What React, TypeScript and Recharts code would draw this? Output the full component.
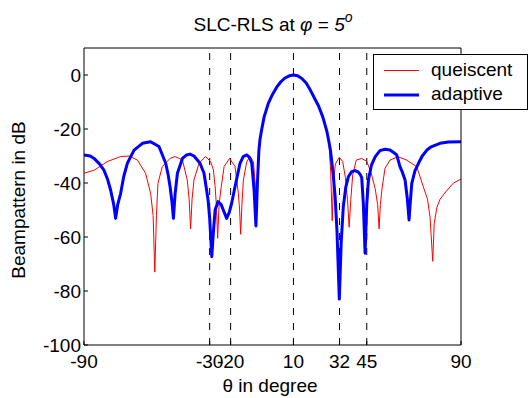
import React from 'react';
import { LineChart, Line, XAxis, YAxis, ReferenceLine, Legend } from 'recharts';

// quiescent (red) pattern
const quiescentAngles = [
  -90, -85, -79, -72.5, -68.5, -64.5, -60.6, -58.2, -57, -56.2, -55.4, -54.7, -52.6, -48.9, -46.5, -43,
  -40.7, -39.8, -39.1, -38.4, -37.5, -35.1, -32, -29.5, -28.2, -27.4, -26.8, -26.2, -25.5, -24.7, -23.1,
  -20.5, -17.9, -16.3, -15.7, -15.2, -14.6, -13.9, -12.3, -10.7, -9.1, -8.3, -7.6, -7, -6.3, -5, -4, -2,
  0, 2, 4, 6, 8, 10, 12, 14, 16, 18, 20, 22, 24, 26, 27, 27.8, 28.5, 29.1, 30, 31.9, 33.5, 34.8, 35.8,
  36.6, 37.4, 38.3, 40, 42.6, 45, 47, 49, 50.2, 50.9, 51.5, 52.2, 53.7, 56.1, 60, 64, 68.9, 72, 74, 75.2,
  76.5, 77.2, 78.5, 80, 83, 86.3, 90,
];
const quiescentDb = [
  -36.4, -35.2, -32.1, -30.2, -30, -31.5, -36.4, -43.8, -52, -73, -52, -40.1, -33.9, -30.9, -30.2, -31.5,
  -38.9, -46, -57, -46, -38.9, -32.7, -30.2, -32.1, -35.2, -41.4, -48, -60.5, -48, -42.6, -33.9,
  -30.9, -33.9, -43.8, -50, -59, -48, -38.9, -32.1, -30.2, -32.1, -40, -52, -38, -27, -19.5, -15.5, -10.5,
  -7.2, -4.5, -2.5, -1.1, -0.3, 0, -0.3, -1.3, -2.9, -5.5, -8.5, -11.5, -15.5, -21, -26, -36, -54, -40, -33, -30.5, -32, -38, -46,
  -56.4, -46, -37, -31.5, -30.9, -32, -36, -42, -48, -57, -48, -42.6, -34.6, -31.5, -30.3, -31.5, -34, -41.4, -46, -52.5,
  -69, -55, -49, -46, -43, -40.1, -38.5,
];

// adaptive (blue) pattern
const adaptiveAngles = [
  -90, -87, -85.2, -82.5, -80.5, -78.8, -77.3, -75.8, -74.9, -73.9, -72.5, -71, -69.3, -66.1, -62.1, -58.2,
  -54.2, -51, -49.8, -48.9, -48, -47.3, -46.5, -45.4, -43, -41, -39.4, -37.5, -35.9, -34.6, -32.7, -32.2,
  -30.8, -30, -29, -28.2, -27.4, -26, -24.5, -23.5, -21.9, -20.7, -19.5, -17.9, -15.5, -14, -12.3, -11,
  -9.9, -8.8, -7.9, -7.2, -6.5, -6, -5.2, -4, -2, 0, 2, 4, 6, 8, 10, 12, 14, 16, 18, 20, 22, 24, 26, 27,
  27.7, 29, 29.9, 30.8, 31.9, 32.8, 33.8, 35, 36.2, 37.8, 39.4, 41, 42, 42.6, 43.4, 44.2, 45, 45.8, 47.2,
  49, 51.3, 53.7, 56.1, 58, 59.3, 60.9, 62, 63.3, 64.4, 65.2, 65.9, 66.5, 68, 69.7, 71.5, 73.7, 76, 80, 84, 90,
];
const adaptiveDb = [
  -29.6, -30, -30.9, -33, -35.2, -38.5, -42.6, -48, -53.1, -48, -43.8, -37.5, -32.7, -27.8, -25.3, -24.7,
  -26.5, -32.7, -37, -41.4, -47, -53.1, -44, -36.4, -30.9, -29.6, -29.3, -30, -31.5, -32.7, -36.4, -38.9,
  -46, -53, -67.3, -58, -50, -46.9, -48, -50, -53.1, -51, -47.5, -41.4, -32.7, -30.2, -29.6, -30.5,
  -32.7, -42.6, -55.9, -40, -28, -24, -20.4, -15.5, -10.5, -7.2, -4.5, -2.5, -1.1, -0.3, 0, -0.3, -1.3, -2.9, -5.5, -8.5, -11.5, -15.5, -21, -25,
  -28, -37, -45, -58, -83, -62, -48.8, -41.5, -37.7, -35.8, -35.4, -36, -37, -38, -48, -66, -48, -38.9, -33.5,
  -30.3, -28, -27.5, -27.8, -28.8, -29.6, -34, -36, -38.9, -46, -53.7, -46, -40.1, -35.5, -32.7, -30, -27.8, -26.5, -25.3, -24.8, -24.7,
];

const xTicks = [-90, -30, -20, 10, 32, 45, 90];
const yTicks = [-100, -80, -60, -40, -20, 0];
const markedAngles = [-30, -20, 10, 32, 45];

const quiescent = quiescentAngles.map((angle, i) => ({ angle, db: quiescentDb[i] }));
const adaptive = adaptiveAngles.map((angle, i) => ({ angle, db: adaptiveDb[i] }));

const FONT = '"Liberation Sans", Arial, sans-serif';
const tickStyle = { fontSize: 19, fill: '#000', fontFamily: FONT };

const renderLegend = () => (
  <svg width={155} height={56} style={{ display: 'block' }}>
    <rect x={0.5} y={0.5} width={154} height={55} fill="#fff" stroke="#000" />
    <line x1={11} x2={46} y1={16.5} y2={16.5} stroke="#ff0000" strokeWidth={1} />
    <text x={58} y={22} fontSize={19} fontFamily={FONT} fill="#000">queiscent</text>
    <line x1={11} x2={46} y1={41} y2={41} stroke="#0000ff" strokeWidth={3} />
    <text x={58} y={45.5} fontSize={19} fontFamily={FONT} fill="#000">adaptive</text>
  </svg>
);

export default function App() {
  return (
    <div style={{ position: 'absolute', left: 0, top: 0, width: 529, height: 398, background: '#fff' }}>
      <LineChart width={529} height={398} margin={{ top: 47, right: 67, bottom: 23, left: 34 }}>
        <XAxis
          dataKey="angle"
          type="number"
          domain={[-90, 90]}
          ticks={xTicks}
          interval={0}
          height={30}
          tickSize={-4}
          tickMargin={13.5}
          tick={tickStyle}
          stroke="#000"
          allowDataOverflow
        />
        <XAxis
          xAxisId="top"
          orientation="top"
          type="number"
          domain={[-90, 90]}
          ticks={xTicks}
          interval={0}
          height={1}
          tickSize={-4}
          tick={false}
          stroke="#000"
        />
        <YAxis
          type="number"
          domain={[-100, 10]}
          ticks={yTicks}
          interval={0}
          width={50}
          tickSize={-4}
          tickMargin={7}
          tick={tickStyle}
          stroke="#000"
          allowDataOverflow
        />
        <YAxis
          yAxisId="right"
          orientation="right"
          type="number"
          domain={[-100, 10]}
          ticks={yTicks}
          interval={0}
          width={1}
          tickSize={-4}
          tick={false}
          stroke="#000"
        />
        {markedAngles.map((a) => (
          <ReferenceLine key={a} x={a} stroke="#000" strokeDasharray="7 8" />
        ))}
        <Line
          data={quiescent}
          dataKey="db"
          name="queiscent"
          type="linear"
          stroke="#ff0000"
          strokeWidth={1}
          dot={false}
          isAnimationActive={false}
        />
        <Line
          data={adaptive}
          dataKey="db"
          name="adaptive"
          type="linear"
          stroke="#0000ff"
          strokeWidth={3}
          strokeLinejoin="round"
          dot={false}
          isAnimationActive={false}
        />
        <Legend
          layout="vertical"
          align="center"
          verticalAlign="middle"
          content={renderLegend}
          wrapperStyle={{ position: 'absolute', left: 373, top: 54, width: 155, height: 56 }}
        />
      </LineChart>
      <svg
        width={529}
        height={398}
        style={{ position: 'absolute', left: 0, top: 0, pointerEvents: 'none' }}
        fontFamily={FONT}
        fontSize={19}
      >
        <text x={273} y={31} textAnchor="middle" fill="#000">
          SLC-RLS at <tspan fontStyle="italic">φ</tspan> = <tspan fontStyle="italic">5</tspan>
          <tspan fontStyle="italic" fontSize={14} dy={-9}>o</tspan>
        </text>
        <text x={270} y={392} textAnchor="middle" fill="#000">θ in degree</text>
        <text x={25} y={200} textAnchor="middle" fill="#000" transform="rotate(-90 25 200)">
          Beampattern in dB
        </text>
      </svg>
    </div>
  );
}
